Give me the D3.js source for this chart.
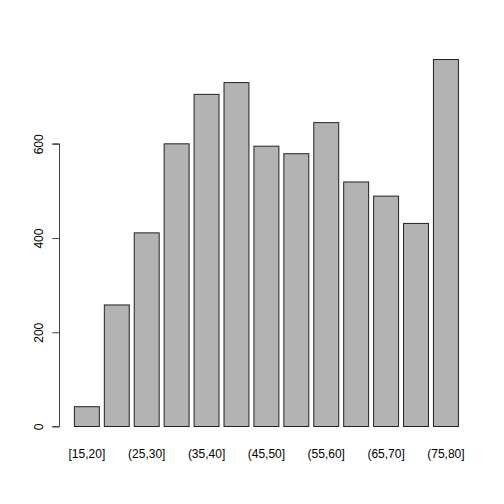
<!DOCTYPE html>
<html><head><meta charset="utf-8">
<script src="https://d3js.org/d3.v7.min.js"></script>
<style>body{margin:0;background:#fff}svg{display:block}text{font-family:"Liberation Sans",Arial,sans-serif;font-size:12px;fill:#000}</style>
</head><body><svg id="c" width="504" height="504"></svg>
<script>
const categories = ["[15,20]","(20,25]","(25,30]","(30,35]","(35,40]","(40,45]","(45,50]","(50,55]","(55,60]","(60,65]","(65,70]","(70,75]","(75,80]"];
const counts = [42, 258, 411, 600, 705, 730, 595, 579, 645, 519, 489, 431, 779];
const yTicks = [0, 200, 400, 600];
const shownLabels = ["[15,20]","(25,30]","(35,40]","(45,50]","(55,60]","(65,70]","(75,80]"];

const svg = d3.select("#c");
// R barplot: bar width 1, space 0.2; x domain with 4% extension
const n = categories.length;
const x = d3.scaleLinear().domain([-0.416, 15.6 + 0.616]).range([59.04, 473.76]);
const y = d3.scaleLinear().domain([0, 779]).range([426.5, 59.5]);

const barsG = svg.append("g");
barsG.selectAll("rect").data(counts).join("rect")
  .attr("x", (d,i) => x(0.2 + i*1.2))
  .attr("width", (d,i) => x(1.2 + i*1.2) - x(0.2 + i*1.2))
  .attr("y", d => y(d))
  .attr("height", d => y(0) - y(d))
  .attr("fill", "#b3b3b3")
  .attr("stroke", "#222")
  .attr("stroke-width", 1);

// y axis (R style)
const yAxis = d3.axisLeft(y).tickValues(yTicks).tickSize(7.2).tickPadding(0).tickFormat(d3.format("d"));
const ya = svg.append("g").attr("transform","translate(59.5,0)").call(yAxis);
ya.select(".domain").attr("d", `M-7.2,${y(0)}H0V${y(600)}H-7.2`).attr("stroke","#444");
ya.selectAll(".tick line").attr("stroke","#444");
ya.selectAll(".tick text")
  .attr("x", 0).attr("y", 0).attr("dy", null)
  .attr("text-anchor","middle")
  .attr("font-size", 12)
  .attr("transform", "translate(-17,0) rotate(-90)")
  .attr("font-family", '"Liberation Sans",Arial,sans-serif');

// x labels
svg.append("g").selectAll("text").data(categories).join("text")
  .filter(d => shownLabels.includes(d))
  .attr("x", (d) => x(0.7 + categories.indexOf(d)*1.2))
  .attr("y", 457.5)
  .attr("text-anchor","middle")
  .text(d => d);
</script></body></html>
